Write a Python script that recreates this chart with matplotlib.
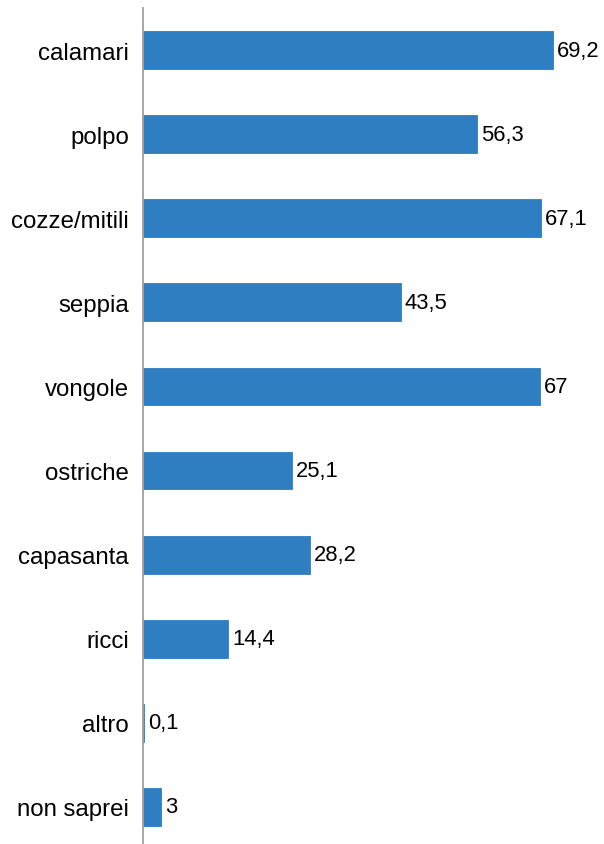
import matplotlib
matplotlib.use("Agg")
import matplotlib.pyplot as plt
from matplotlib import font_manager

categories = ["calamari", "polpo", "cozze/mitili", "seppia", "vongole",
              "ostriche", "capasanta", "ricci", "altro", "non saprei"]
values = [69.2, 56.3, 67.1, 43.5, 67, 25.1, 28.2, 14.4, 0.1, 3]
value_labels = ["69,2", "56,3", "67,1", "43,5", "67", "25,1", "28,2", "14,4", "0,1", "3"]

names = {f.name for f in font_manager.fontManager.ttflist}
fam = "Liberation Sans Narrow" if "Liberation Sans Narrow" in names else "Liberation Sans"
fs = 20 if fam == "Liberation Sans Narrow" else 17.3
fs_val = 20 if fam == "Liberation Sans Narrow" else 15.8
plt.rcParams['font.family'] = [fam, 'DejaVu Sans']

W, H = 604, 845
fig = plt.figure(figsize=(W/100, H/100), dpi=100)
left_px, right_px, top_px, bottom_px = 143, 600, 9, 850
ax = fig.add_axes([left_px/W, 1 - bottom_px/H, (right_px-left_px)/W, (bottom_px-top_px)/H])

y = list(range(len(categories)))
ax.barh(y, values, height=0.45, color="#2e7ec1", edgecolor="#2e7ec1", linewidth=0.6)
ax.set_ylim(len(categories) - 0.5, -0.5)
ax.set_xlim(0, (right_px - left_px) / 5.925)
ax.set_yticks(y)
ax.set_yticklabels(categories, fontsize=fs, color="#000000")
ax.tick_params(axis='y', length=0, pad=10)
ax.set_xticks([])
for s in ["top", "right", "bottom"]:
    ax.spines[s].set_visible(False)
ax.spines["left"].set_color("#a0a0a0")
ax.spines["left"].set_linewidth(1.3)

for yi, v, lab in zip(y, values, value_labels):
    ax.annotate(lab, (v, yi), xytext=(3, 0), textcoords="offset points",
                va="center", ha="left", fontsize=fs_val, color="#000000")

fig.savefig("out.png", dpi=100)
